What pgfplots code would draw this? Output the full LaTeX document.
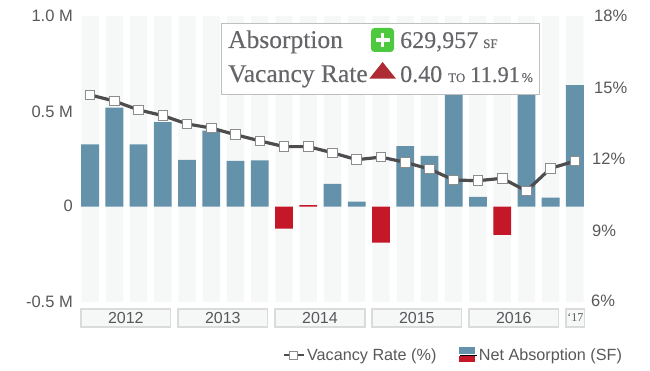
\documentclass[border=0pt]{standalone}
\usepackage{pgfplots}
\pgfplotsset{compat=1.18}
\usepackage{fontspec}
\setmainfont{Liberation Sans}
\newfontfamily\serifbox[FakeBold=0.25]{Liberation Serif}
\newfontfamily\serifplain{Liberation Serif}
\definecolor{barblue}{HTML}{6592AB}
\definecolor{barred}{HTML}{C41829}
\definecolor{band}{HTML}{F6F8F8}
\definecolor{txt}{HTML}{58585A}
\definecolor{ln}{HTML}{4D4D50}
\definecolor{yb}{HTML}{DADCDC}
\definecolor{boxt}{HTML}{66666A}
\definecolor{iconred}{HTML}{AE2B34}
\definecolor{icongreen}{HTML}{4CC93D}
\begin{document}
\begin{tikzpicture}[x=1pt,y=1pt]
\path[use as bounding box] (0,0) rectangle (650,370);
\begin{axis}[
  at={(78pt,68pt)},anchor=south west,scale only axis,width=509pt,height=286pt,
  xmin=-0.5,xmax=20.5,ymin=-0.5,ymax=1.0,
  axis line style={draw=none},xtick=\empty,
  ytick={-0.5,0,0.5,1},yticklabels={-0.5 M,\raisebox{1pt}{0},0.5 M,1.0 M},
  major tick length=0pt,
  yticklabel style={font=\fontsize{16.5}{16.5}\selectfont,text=txt,inner sep=0pt,xshift=-5pt},
  axis y line*=left,
  ybar,bar shift=0pt,clip=false]
\addplot[fill=band,draw=none,bar width=17.4pt] coordinates {(0,1)(1,1)(2,1)(3,1)(4,1)(5,1)(6,1)(7,1)(8,1)(9,1)(10,1)(11,1)(12,1)(13,1)(14,1)(15,1)(16,1)(17,1)(18,1)(19,1)(20,1)};
\addplot[fill=band,draw=none,bar width=17.4pt] coordinates {(0,-0.5)(1,-0.5)(2,-0.5)(3,-0.5)(4,-0.5)(5,-0.5)(6,-0.5)(7,-0.5)(8,-0.5)(9,-0.5)(10,-0.5)(11,-0.5)(12,-0.5)(13,-0.5)(14,-0.5)(15,-0.5)(16,-0.5)(17,-0.5)(18,-0.5)(19,-0.5)(20,-0.5)};
\addplot[fill=barblue,draw=none,bar width=17.8pt] coordinates {(0,0.327)(1,0.519)(2,0.327)(3,0.444)(4,0.245)(5,0.399)(6,0.24)(7,0.243)(10,0.119)(11,0.026)(13,0.318)(14,0.267)(15,0.70)(16,0.052)(18,0.70)(19,0.047)(20,0.637)};
\addplot[fill=barred,draw=none,bar width=17.8pt] coordinates {(8,-0.115)(9,0.008)(12,-0.189)(17,-0.148)};
\end{axis}
\begin{axis}[
  at={(78pt,68pt)},anchor=south west,scale only axis,width=509pt,height=286pt,
  xmin=-0.5,xmax=20.5,ymin=6,ymax=18,
  axis line style={draw=none},xtick=\empty,
  ytick={6,9,12,15,18},
  yticklabels={\raisebox{3pt}{\kern-3pt 6\%},\kern-2pt 9\%,\kern-2pt 12\%,15\%,18\%},
  major tick length=0pt,
  axis y line*=right,
  yticklabel style={font=\fontsize{16.5}{16.5}\selectfont,text=txt,inner sep=0pt,xshift=7pt},
  clip=false,
  legend style={at={(1.0727,-0.185)},anchor=east,draw=none,fill=none,inner sep=0pt,outer sep=0pt,
    font=\fontsize{16.2}{16.5}\selectfont,text=txt,legend columns=2,
    /tikz/every even column/.append style={column sep=21pt}},
  legend cell align=left]
\addplot[color=ln,line width=3.2pt,mark=square*,mark size=4.8pt,
  mark options={fill=white,draw=gray!90,line width=0.9pt,solid},
  legend image code/.code={
    \draw[ln,line width=2.8pt] (0pt,0pt) -- (20pt,0pt);
    \draw[fill=white,draw=gray!90,line width=0.8pt] (6pt,-4pt) rectangle (14pt,4pt);}] coordinates {
 (0,14.69)(1,14.43)(2,14.06)(3,13.82)(4,13.47)(5,13.30)(6,13.02)(7,12.76)(8,12.52)(9,12.52)(10,12.26)(11,11.97)(12,12.08)(13,11.86)(14,11.58)(15,11.12)(16,11.09)(17,11.19)(18,10.66)(19,11.61)(20,11.91)};
\addlegendentry{Vacancy Rate (\%)}
\addlegendimage{legend image code/.code={
  \path (0pt,0pt) -- (17pt,0pt);
  \fill[barblue] (0pt,1.5pt) rectangle (15pt,7.5pt);
  \fill[barred] (0pt,-6.5pt) rectangle (15pt,-1.2pt);}}
\addlegendentry{Net Absorption (SF)}
\end{axis}
% year boxes
\foreach \a/\b/\t in {81/170.7/2012,178/267.7/2013,275/365/2014,372/461.7/2015,469/558.7/2016}{
  \draw[yb,line width=1.1pt,fill=band] (\a,43) rectangle (\b,61);
  \node[text=txt,font=\fontsize{16}{16}\selectfont,inner sep=0pt] at ({(\a+\b)/2},52) {\t};
}
\draw[yb,line width=1.1pt,fill=band] (566,43) rectangle (584.7,61);
\node[text=txt,font=\serifplain\fontsize{12}{12}\selectfont,inner sep=0pt] at (575.3,52) {‘17};
% tooltip
\draw[fill=white,draw=gray!50,line width=0.9pt] (221.7,346.3) rectangle (539.3,275.7);
\begin{scope}[every node/.style={anchor=base west,inner sep=0pt,text=boxt}]
\node[font=\serifbox\fontsize{25.5}{26}\selectfont] at (228,322) {Absorption};
\node[font=\serifbox\fontsize{25.5}{26}\selectfont] at (228,288) {Vacancy Rate};
\node[font=\serifbox\fontsize{24}{26}\selectfont] at (400,322) {629,957};
\node[font=\serifbox\fontsize{13}{14}\selectfont] at (483,322) {SF};
\node[font=\serifbox\fontsize{24}{26}\selectfont] at (400,288) {0.40};
\node[font=\serifbox\fontsize{13}{14}\selectfont] at (448,288) {TO};
\node[font=\serifbox\fontsize{22.5}{26}\selectfont] at (470,288) {11.91};
\node[font=\serifbox\fontsize{13.5}{14}\selectfont] at (521.5,288) {\%};
\end{scope}
\fill[rounded corners=3.5pt,fill=icongreen] (371,342) rectangle (394,318);
\draw[white,line width=3.2pt] (375.5,330) -- (389.5,330) (382.5,323) -- (382.5,337);
\fill[fill=iconred] (369.3,291.3) -- (396,291.3) -- (382.6,308) -- cycle;
\end{tikzpicture}
\end{document}
